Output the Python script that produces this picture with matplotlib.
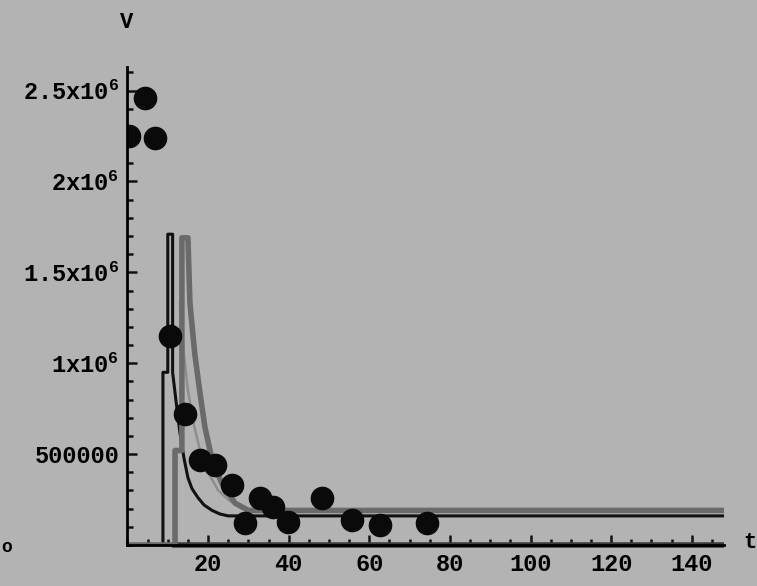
import matplotlib
matplotlib.use("Agg")
import matplotlib.pyplot as plt
from matplotlib.ticker import MultipleLocator, FixedLocator

plt.rcParams['mathtext.fontset'] = 'custom'
plt.rcParams['mathtext.rm'] = 'Liberation Mono:bold'
plt.rcParams['mathtext.it'] = 'Liberation Mono:bold'
plt.rcParams['mathtext.bf'] = 'Liberation Mono:bold'

# measured points
t_data = [0.3, 4.3, 6.8, 10.5, 14.3, 18, 21.7, 25.9, 29.2, 32.9, 36, 39.8, 48.2, 55.7, 62.6, 74.3]
v_data = [2.25e6, 2.46e6, 2.24e6, 1.15e6, 0.72e6, 0.467e6, 0.44e6, 0.33e6, 0.12e6,
          0.26e6, 0.21e6, 0.125e6, 0.26e6, 0.14e6, 0.11e6, 0.12e6]

# model curves
t_black = [0, 8.8, 8.8, 10, 10, 11.2, 11.2, 12, 13, 14, 15, 16, 17.5, 19, 21, 23, 25, 148]
v_black = [0, 0, 0.95e6, 0.95e6, 1.71e6, 1.71e6, 0.95e6, 0.8e6, 0.62e6, 0.48e6, 0.37e6,
           0.31e6, 0.26e6, 0.22e6, 0.19e6, 0.17e6, 0.16e6, 0.16e6]

t_gray = [0, 11.8, 11.8, 13.5, 13.5, 15, 15.5, 16.7, 18, 19.2, 21, 23.4, 26.7, 30, 148]
v_gray = [0, 0, 0.52e6, 0.52e6, 1.69e6, 1.69e6, 1.33e6, 1.05e6, 0.835e6, 0.65e6, 0.467e6,
          0.34e6, 0.23e6, 0.19e6, 0.19e6]

t_light = [13, 14, 15, 16.5, 18, 20, 22.5, 25.5, 29, 33]
v_light = [1.33e6, 1.05e6, 0.85e6, 0.66e6, 0.52e6, 0.4e6, 0.3e6, 0.24e6, 0.2e6, 0.19e6]

t_zero = [11, 148]
v_zero = [0, 0]

bg = '#b3b3b3'
fig = plt.figure(figsize=(7.57, 5.86), dpi=100, facecolor=bg)
ax = fig.add_axes([0.1684, 0.07, 0.788, 0.8157], facecolor=bg)

ax.plot(t_zero, v_zero, color='#3c3c3c', lw=4, solid_capstyle='butt', clip_on=False)
ax.plot(t_light, v_light, color='#8e8e8e', lw=1.8)
ax.plot(t_black, v_black, color='#111111', lw=2.2)
ax.plot(t_gray, v_gray, color='#6a6a6a', lw=4)
ax.plot(t_data, v_data, 'o', color='#0a0a0a', ms=16, clip_on=True)

ax.set_xlim(0, 148)
ax.set_ylim(0, 2.63e6)
for s in ['top', 'right']:
    ax.spines[s].set_visible(False)
ax.spines['left'].set_linewidth(2)
ax.spines['bottom'].set_linewidth(2)

ax.xaxis.set_major_locator(FixedLocator([20, 40, 60, 80, 100, 120, 140]))
ax.xaxis.set_minor_locator(MultipleLocator(5))
ax.yaxis.set_major_locator(FixedLocator([5e5, 1e6, 1.5e6, 2e6, 2.5e6]))
ax.yaxis.set_minor_locator(MultipleLocator(1e5))
ax.tick_params(which='both', direction='in', color='#111111', width=1.8)
ax.tick_params(which='major', length=7, labelsize=17)
ax.tick_params(which='minor', length=4)

ylabels = ['500000', '1x10$^{6}$', '1.5x10$^{6}$', '2x10$^{6}$', '2.5x10$^{6}$']
ax.set_yticklabels(ylabels, family='Liberation Mono', fontweight='bold')
ax.set_xticklabels(['20', '40', '60', '80', '100', '120', '140'],
                   family='Liberation Mono', fontweight='bold')
ax.tick_params(axis='y', pad=6)
ax.tick_params(axis='x', pad=6)

fig.text(127 / 757, 1 - 22 / 586, 'V', ha='center', va='center', fontsize=16,
         family='Liberation Mono', fontweight='bold')
fig.text(750 / 757, 1 - 543 / 586, 't', ha='center', va='center', fontsize=16,
         family='Liberation Mono', fontweight='bold')
fig.text(7 / 757, 1 - 548 / 586, 'o', ha='center', va='center', fontsize=13,
         family='Liberation Mono', fontweight='bold')

fig.savefig('out.png', dpi=100, facecolor=bg)
